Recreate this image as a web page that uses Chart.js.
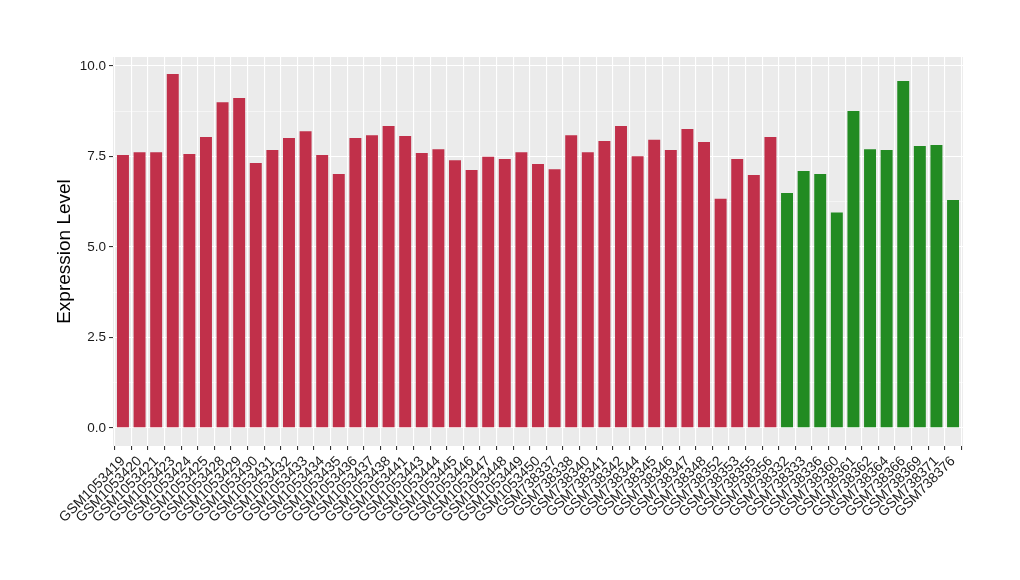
<!DOCTYPE html>
<html>
<head>
<meta charset="utf-8">
<script src="https://cdn.jsdelivr.net/npm/chart.js@4"></script>
<style>
    html, body { margin: 0; padding: 0; background: #fff; }
    #wrap { width: 1020px; height: 580px; }
</style>
</head>
<body>
<div id="wrap"><canvas id="chart"></canvas></div>
<script>
const samples = [
    'GSM1053419', 'GSM1053420', 'GSM1053421', 'GSM1053423', 'GSM1053424', 'GSM1053425',
    'GSM1053428', 'GSM1053429', 'GSM1053430', 'GSM1053431', 'GSM1053432', 'GSM1053433',
    'GSM1053434', 'GSM1053435', 'GSM1053436', 'GSM1053437', 'GSM1053438', 'GSM1053441',
    'GSM1053443', 'GSM1053444', 'GSM1053445', 'GSM1053446', 'GSM1053447', 'GSM1053448',
    'GSM1053449', 'GSM1053450', 'GSM738337', 'GSM738338', 'GSM738340', 'GSM738341',
    'GSM738342', 'GSM738344', 'GSM738345', 'GSM738346', 'GSM738347', 'GSM738348',
    'GSM738352', 'GSM738353', 'GSM738355', 'GSM738356',
    'GSM738332', 'GSM738333', 'GSM738336', 'GSM738360', 'GSM738361', 'GSM738362',
    'GSM738364', 'GSM738366', 'GSM738369', 'GSM738371', 'GSM738376',
];

const expression = [
    7.54, 7.62, 7.62, 9.78, 7.57, 8.04, 9.00, 9.12, 7.32, 7.68,
    8.01, 8.20, 7.54, 7.02, 8.01, 8.09, 8.34, 8.07, 7.60, 7.70,
    7.40, 7.13, 7.49, 7.43, 7.62, 7.29, 7.15, 8.09, 7.62, 7.93,
    8.34, 7.51, 7.96, 7.68, 8.26, 7.90, 6.33, 7.43, 6.99, 8.04,
    6.49, 7.10, 7.02, 5.95, 8.76, 7.70, 7.68, 9.59, 7.79, 7.82, 6.30,
];

// first 40 samples in group one, the rest in group two
const groups = samples.map((s, i) => (i < 40 ? 'a' : 'b'));

const yTicks = [0, 1.25, 2.5, 3.75, 5, 6.25, 7.5, 8.75, 10];

const panelBg = {
    id: 'panelBg',
    beforeDraw(chart) {
        const { ctx, chartArea: a } = chart;
        ctx.save();
        ctx.fillStyle = '#EBEBEB';
        ctx.fillRect(a.left, a.top, a.right - a.left, a.bottom - a.top);
        ctx.restore();
    },
};

const isMajor = (v) => Math.abs(v / 2.5 - Math.round(v / 2.5)) < 1e-6;

new Chart(document.getElementById('chart').getContext('2d'), {
    type: 'bar',
    data: {
        datasets: [
            {
                data: expression.map((v, i) => ({ x: i, y: v })),
                backgroundColor: groups.map((g) => (g === 'a' ? '#C1304A' : '#228B22')),
                borderWidth: 0,
                barPercentage: 0.72,
                categoryPercentage: 1,
            },
        ],
    },
    options: {
        responsive: true,
        maintainAspectRatio: false,
        animation: false,
        layout: {
            padding: { left: 44, right: 57, top: 57, bottom: 0 },
        },
        plugins: {
            legend: { display: false },
            tooltip: { enabled: false },
        },
        scales: {
            x: {
                type: 'linear',
                min: -0.6,
                max: 50.6,
                offset: false,
                afterBuildTicks: (scale) => {
                    scale.ticks = samples.map((s, i) => ({ value: i }));
                },
                afterFit: (scale) => {
                    scale.height = 134;
                },
                border: { display: false },
                grid: {
                    color: '#FFFFFF',
                    lineWidth: 1.1,
                    tickColor: '#333333',
                    tickLength: 4,
                },
                ticks: {
                    autoSkip: false,
                    maxRotation: 45,
                    minRotation: 45,
                    padding: 3,
                    color: '#1A1A1A',
                    font: { family: '"Liberation Sans", Arial, sans-serif', size: 14 },
                    callback: (value) => samples[value] ?? '',
                },
            },
            y: {
                min: -0.5,
                max: 10.25,
                afterBuildTicks: (scale) => {
                    scale.ticks = yTicks.map((v) => ({ value: v }));
                },
                afterFit: (scale) => {
                    scale.width = 69;
                },
                border: { display: false },
                grid: {
                    color: '#FFFFFF',
                    lineWidth: (c) => (isMajor(c.tick.value) ? 1.1 : 0.5),
                    tickColor: (c) => (isMajor(c.tick.value) ? '#333333' : 'rgba(0,0,0,0)'),
                    tickLength: 4,
                },
                ticks: {
                    padding: 3,
                    color: '#1A1A1A',
                    font: { family: '"Liberation Sans", Arial, sans-serif', size: 13.5 },
                    callback: (value) => (isMajor(value) ? value.toFixed(1) : ''),
                },
                title: {
                    display: true,
                    text: 'Expression Level',
                    color: '#000000',
                    padding: { top: 9, bottom: 0 },
                    font: { family: '"Liberation Sans", Arial, sans-serif', size: 19 },
                },
            },
        },
    },
    plugins: [panelBg],
});
</script>
</body>
</html>
